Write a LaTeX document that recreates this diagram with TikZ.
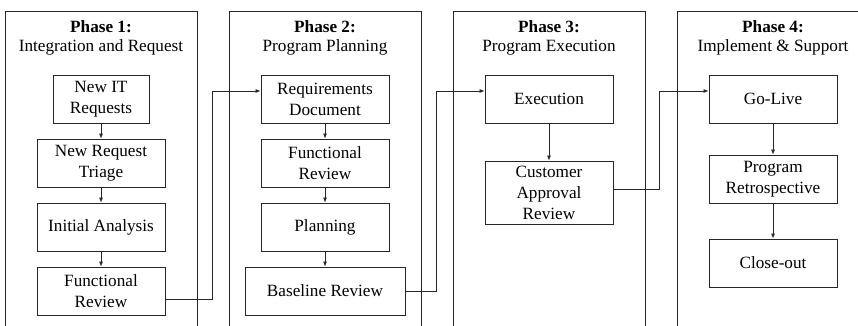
\documentclass[tikz,border=0pt]{standalone}
\usepackage{fontspec}
\setmainfont{Liberation Serif}
\usetikzlibrary{arrows.meta,positioning}

\begin{document}
\begin{tikzpicture}[x=1pt,y=-1pt,
    line width=0.8pt, draw=black!85,
    stepbox/.style={draw=black!85,rectangle,minimum width=128pt,minimum height=48pt,inner sep=2pt,align=center,font=\fontsize{17.2}{21}\selectfont},
    title/.style={align=center,font=\fontsize{17.2}{19}\selectfont},
    flow/.style={-{Latex[length=5pt,width=4pt]},draw=black!85}]
                      \useasboundingbox (0,0) rectangle (858,325);

                      % phase columns
                      \draw (5,330) |- (197,11) -- (197,330);
                      \draw (229,330) |- (421,11) -- (421,330);
                      \draw (453,330) |- (645,11) -- (645,330);
                      \draw (677,330) |- (862,11);

                      \node[title] (t1) at (101,38) {\textbf{Phase 1:}\\Integration and Request};
                      \node[title] (t2) at (325,38) {\textbf{Phase 2:}\\Program Planning};
                      \node[title] (t3) at (549,38) {\textbf{Phase 3:}\\Program Execution};
                      \node[title] (t4) at (773,38) {\textbf{Phase 4:}\\Implement \& Support};

                      \node[stepbox,minimum width=96pt] (it) at (101,99) {New IT\\Requests};
                      \node[stepbox] (triage) at (101,163) {New Request\\Triage};
                      \node[stepbox] (analysis) at (101,227) {Initial Analysis};
                      \node[stepbox] (rev1) at (101,291) {Functional\\Review};

                      \node[stepbox] (req) at (325,99) {Requirements\\Document};
                      \node[stepbox] (rev2) at (325,163) {Functional\\Review};
                      \node[stepbox] (plan) at (325,227) {Planning};
                      \node[stepbox,minimum width=160pt] (base) at (325,291) {Baseline Review};

                      \node[stepbox] (exec) at (549,99) {Execution};
                      \node[stepbox,minimum height=63pt] (appr) at (549,192.5) {Customer\\Approval\\Review};

                      \node[stepbox] (golive) at (773,99) {Go-Live};
                      \node[stepbox] (retro) at (773,179) {Program\\Retrospective};
                      \node[stepbox] (close) at (773,263) {Close-out};

                      \draw[flow] (it) -- (triage);
                      \draw[flow] (triage) -- (analysis);
                      \draw[flow] (analysis) -- (rev1);
                      \draw[flow] (req) -- (rev2);
                      \draw[flow] (rev2) -- (plan);
                      \draw[flow] (plan) -- (base);
                      \draw[flow] (exec) -- (appr);
                      \draw[flow] (golive) -- (retro);
                      \draw[flow] (retro) -- (close);

                      \draw[flow] ([yshift=-8pt]rev1.east) -| ([xshift=-48pt,yshift=8pt]req.west) -- ([yshift=8pt]req.west);
                      \draw[flow] (base.east) -| ([xshift=-48pt,yshift=8pt]exec.west) -- ([yshift=8pt]exec.west);
                      \draw[flow] ([yshift=3.5pt]appr.east) -| ([xshift=-49pt,yshift=8pt]golive.west) -- ([yshift=8pt]golive.west);
                    \end{tikzpicture}
\end{document}
